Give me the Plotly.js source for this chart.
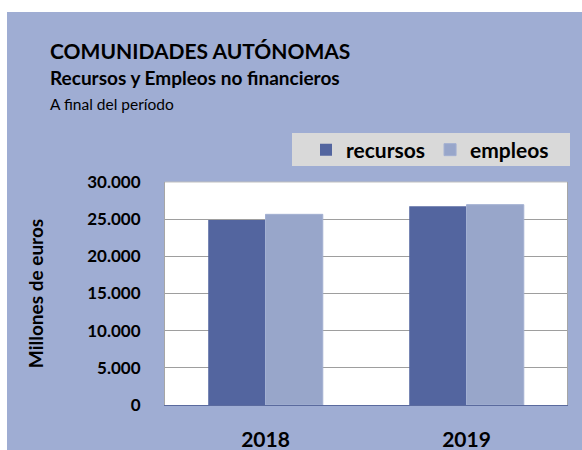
<!DOCTYPE html>
<html>
<head>
<meta charset="utf-8">
<script src="https://cdn.plot.ly/plotly-3.0.1.min.js"></script>
<style>
  html, body { margin: 0; padding: 0; background: #ffffff; width: 582px; height: 450px; overflow: hidden; }
  #chart { position: absolute; left: 7px; top: 12px; width: 575px; height: 438px; }
</style>
</head>
<body>
<div id="chart"></div>
<script>
const categories = ["2018", "2019"];
const recursos = [24900, 26750];
const empleos = [25650, 26950];
const seriesNames = ["recursos", "empleos"];
const yTicks = [0, 5000, 10000, 15000, 20000, 25000, 30000];

const FONT = "Lato, 'DejaVu Sans', sans-serif";
const W = 575, H = 438, ML = 158, MR = 15, MT = 170, MB = 45;
const PW = W - ML - MR, PH = H - MT - MB;
const px = x => (x - ML) / PW;          // div px -> paper x
const py = y => (H - MB - y) / PH;      // div px -> paper y

const traces = [
  { type: "bar", name: seriesNames[0], x: categories, y: recursos,
    marker: { color: "#53659F" }, hoverinfo: "x+y" },
  { type: "bar", name: seriesNames[1], x: categories, y: empleos,
    marker: { color: "#98A6CA", line: { color: "#A3B0D2", width: 1 } }, hoverinfo: "x+y" }
];

const layout = {
  width: W, height: H,
  margin: { l: ML, r: MR, t: MT, b: MB, pad: 0 },
  paper_bgcolor: "#9FADD3",
  plot_bgcolor: "#ffffff",
  separators: ",.",
  barmode: "group",
  bargap: 0.43,
  bargroupgap: 0,
  font: { family: FONT, color: "#000000" },
  showlegend: true,
  legend: {
    orientation: "h",
    x: px(547), xanchor: "right",
    y: py(138), yanchor: "middle",
    bgcolor: "rgba(0,0,0,0)",
    font: { family: FONT, size: 21, color: "#000000", weight: "bold" },
    itemwidth: 30,
    traceorder: "normal"
  },
  xaxis: {
    type: "category",
    showline: true, linecolor: "#5A6A9E", linewidth: 1,
    ticks: "", ticklabelstandoff: 16,
    tickfont: { family: FONT, size: 21, color: "#000000", weight: "bold" },
    showgrid: false, zeroline: false, fixedrange: true
  },
  yaxis: {
    range: [0, 30000],
    tickvals: yTicks,
    tickformat: ",d",
    showline: true, mirror: true, linecolor: "#A6A6A6", linewidth: 1,
    showgrid: true, gridcolor: "#9E9E9E", gridwidth: 1,
    zeroline: false,
    ticks: "", ticklabelstandoff: 20,
    tickfont: { family: FONT, size: 17, color: "#000000", weight: "bold" },
    title: { text: "Millones de euros", standoff: 38,
             font: { family: FONT, size: 19, color: "#000000", weight: "bold" } },
    fixedrange: true
  },
  shapes: [
    { type: "rect", xref: "paper", yref: "paper", layer: "below",
      x0: px(285), x1: px(563), y0: py(154), y1: py(121),
      fillcolor: "#D9D9D9", line: { width: 0 } },
    { type: "line", xref: "paper", yref: "paper", layer: "above",
      x0: 0, x1: 1, y0: 1, y1: 1, line: { color: "#BFBFBF", width: 1 } }
  ],
  annotations: [
    { text: "COMUNIDADES AUTÓNOMAS", xref: "paper", yref: "paper",
      x: px(41), y: py(38), xanchor: "left", yanchor: "middle", showarrow: false,
      font: { family: FONT, size: 21, color: "#000000", weight: "bold" } },
    { text: "Recursos y Empleos no financieros", xref: "paper", yref: "paper",
      x: px(41), y: py(65), xanchor: "left", yanchor: "middle", showarrow: false,
      font: { family: FONT, size: 19, color: "#000000", weight: "bold" } },
    { text: "A final del período", xref: "paper", yref: "paper",
      x: px(41), y: py(92), xanchor: "left", yanchor: "middle", showarrow: false,
      font: { family: FONT, size: 15.5, color: "#000000" } }
  ]
};

Plotly.newPlot("chart", traces, layout, { displayModeBar: false, staticPlot: true });
</script>
</body>
</html>
